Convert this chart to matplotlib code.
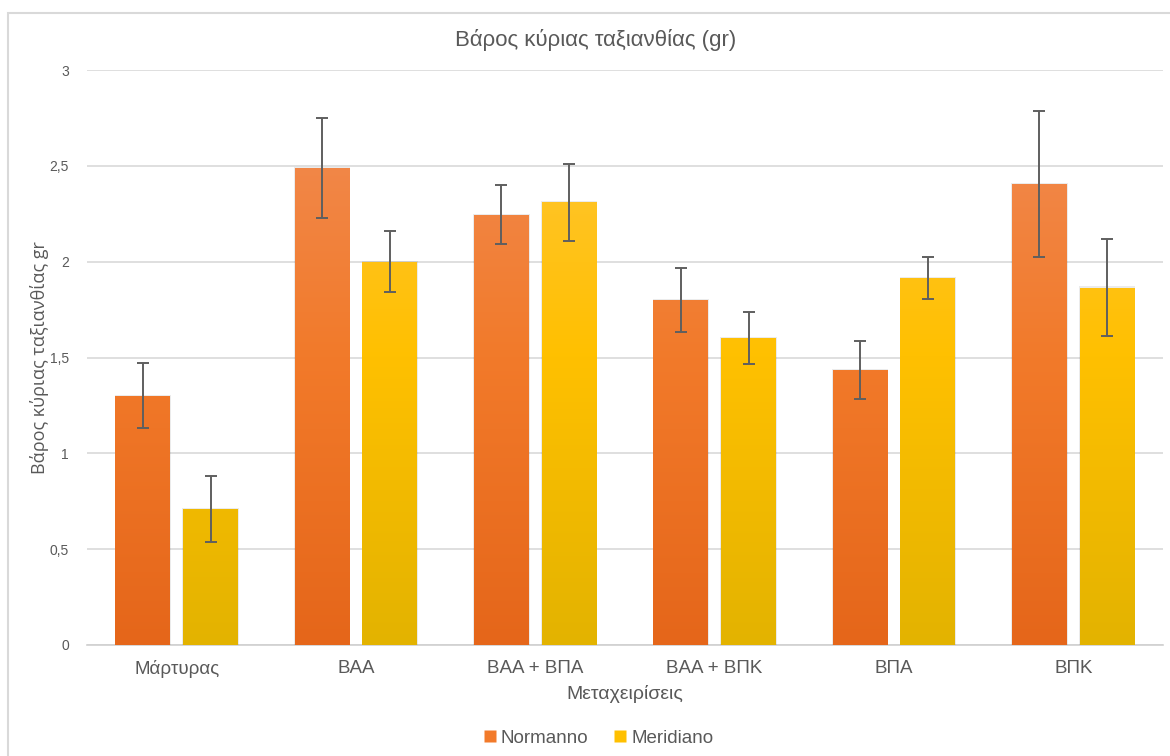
import numpy as np
import matplotlib
matplotlib.use("Agg")
import matplotlib.pyplot as plt
from matplotlib.colors import LinearSegmentedColormap
from matplotlib.patches import Rectangle
from matplotlib.lines import Line2D
from matplotlib.ticker import FuncFormatter

plt.rcParams['font.family'] = ['Liberation Sans', 'DejaVu Sans']

categories = ["Μάρτυρας", "ΒΑΑ", "ΒΑΑ + ΒΠΑ", "ΒΑΑ + ΒΠΚ", "ΒΠΑ", "ΒΠΚ"]
normanno = [1.30, 2.49, 2.245, 1.80, 1.435, 2.405]
normanno_err = [0.17, 0.26, 0.155, 0.165, 0.15, 0.38]
meridiano = [0.71, 2.00, 2.31, 1.60, 1.915, 1.865]
meridiano_err = [0.17, 0.16, 0.20, 0.135, 0.11, 0.255]
series_names = ["Normanno", "Meridiano"]
yticks = [0, 0.5, 1, 1.5, 2, 2.5, 3]

text_grey = "#595959"
grid_grey = "#d9d9d9"

# gradient stops, top -> bottom
orange_stops = ["#f18d56", "#f27a2a", "#e5661a"]
yellow_stops = ["#ffc63f", "#ffc000", "#e3b300"]

fig = plt.figure(figsize=(11.7, 7.56), dpi=100)
fig.patch.set_facecolor("white")
# outer chart border
fig.add_artist(Rectangle((8 / 1170, -0.01), 1.2, 1 - 13 / 756 + 0.01,
                         transform=fig.transFigure, fill=False,
                         edgecolor="#d9d9d9", linewidth=1.5))

ax = fig.add_axes([87 / 1170, 1 - 645 / 756, (1163 - 87) / 1170, (645 - 70) / 756])
ax.set_xlim(-0.5, len(categories) - 0.5)
ax.set_ylim(0, 3)

x = np.arange(len(categories))
width = 0.306
offset = (width + 0.072) / 2


def gradient_bars(xpos, values, stops, label):
    cmap = LinearSegmentedColormap.from_list(label, stops[::-1])
    bars = ax.bar(xpos, values, width, color="none", edgecolor="none",
                  zorder=3, label=label)
    grad = np.linspace(0, 1, 256).reshape(-1, 1)
    for b in bars:
        x0, y0 = b.get_x(), b.get_y()
        w, h = b.get_width(), b.get_height()
        # soft shadow
        ax.add_patch(Rectangle((x0 - 0.004, y0), w + 0.008, h + 0.006,
                               facecolor="#000000", alpha=0.08,
                               edgecolor="none", zorder=2))
        im = ax.imshow(grad, cmap=cmap, aspect="auto", origin="lower",
                       extent=(x0, x0 + w, y0, y0 + 3.0), zorder=3)
        im.set_clip_path(b)
    return bars


gradient_bars(x - offset, normanno, orange_stops, series_names[0])
gradient_bars(x + offset, meridiano, yellow_stops, series_names[1])

ax.errorbar(x - offset, normanno, yerr=normanno_err, fmt="none",
            ecolor="#5f5f5f", elinewidth=1.4, capsize=4, capthick=1.4, zorder=5)
ax.errorbar(x + offset, meridiano, yerr=meridiano_err, fmt="none",
            ecolor="#5f5f5f", elinewidth=1.4, capsize=4, capthick=1.4, zorder=5)
ax.set_xlim(-0.5, len(categories) - 0.5)
ax.set_ylim(0, 3)

ax.set_yticks(yticks)
ax.yaxis.set_major_formatter(FuncFormatter(lambda v, p: f"{v:g}".replace(".", ",")))
ax.set_xticks(x)
ax.set_xticklabels(categories, fontsize=13.5, color=text_grey)
ax.tick_params(axis="y", labelsize=10, colors=text_grey, length=0, pad=13)
ax.tick_params(axis="x", length=0, pad=11)
ax.grid(axis="y", color=grid_grey, linewidth=1.2, zorder=0)
ax.set_axisbelow(True)
for s in ["top", "right", "left"]:
    ax.spines[s].set_visible(False)
ax.spines["bottom"].set_color("#d0d0d0")
ax.spines["bottom"].set_linewidth(1.2)
ax.spines["bottom"].set_zorder(1)

ax.set_xlabel("Μεταχειρίσεις", fontsize=14, color=text_grey, labelpad=5)
ax.set_ylabel("Βάρος κύριας ταξιανθίας gr", fontsize=13, color=text_grey,
              family=["Open Sans", "DejaVu Sans"])
ax.yaxis.set_label_coords((49 - 87) / 1076, 0.5)
fig.text(596 / 1170, 1 - 40 / 756, "Βάρος κύριας ταξιανθίας (gr)",
         ha="center", va="center", fontsize=16, color=text_grey)

handles = [Line2D([], [], marker="s", linestyle="none", markersize=8,
                  markerfacecolor=c, markeredgecolor="none")
           for c in (orange_stops[1], yellow_stops[1])]
fig.legend(handles, series_names, loc="center", ncol=2,
           bbox_to_anchor=(597 / 1170, 1 - 738 / 756), frameon=False,
           fontsize=13.5, labelcolor=text_grey, handletextpad=0.1,
           columnspacing=1.2, handlelength=1.0)

fig.savefig("out.png", dpi=100, facecolor="white")
